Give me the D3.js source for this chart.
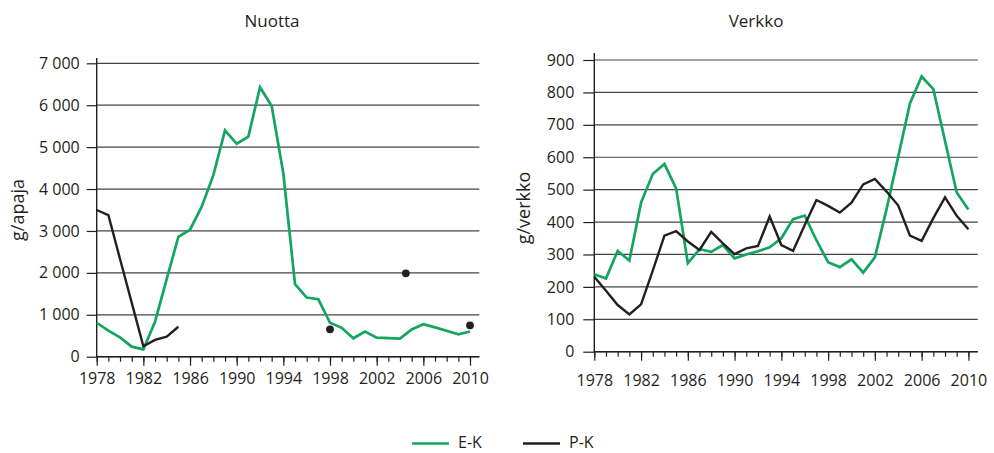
<!DOCTYPE html>
<html>
<head>
<meta charset="utf-8">
<script src="https://cdn.jsdelivr.net/npm/d3@7"></script>
<style>
  html, body { margin: 0; padding: 0; background: #fff; }
  svg { display: block; font-family: "Open Sans", sans-serif; }
  text { fill: #231f20; }
</style>
</head>
<body>
<svg id="chart" width="994" height="453"></svg>
<script>
// ---------- DATA ----------
const years = [1978,1979,1980,1981,1982,1983,1984,1985,1986,1987,1988,1989,1990,1991,1992,1993,1994,
               1995,1996,1997,1998,1999,2000,2001,2002,2003,2004,2005,2006,2007,2008,2009,2010];
const yearLabels = [1978,1982,1986,1990,1994,1998,2002,2006,2010];

// Nuotta (g/apaja)
const nuottaEK = [810,620,460,240,175,835,1850,2860,3030,3580,4330,5400,5080,5250,6430,5980,4370,
                  1730,1410,1370,810,690,440,600,455,445,430,650,775,700,620,535,600];
const nuottaPKYears = [1978,1979,1980,1981,1982,1983,1984,1985];
const nuottaPK = [3500,3380,2330,1290,250,400,477,714];
const nuottaPKDotYears = [1998,2004.5,2010];
const nuottaPKDots = [652,1990,748];
const nuottaTicks = [0,1000,2000,3000,4000,5000,6000,7000];

// Verkko (g/verkko)
const verkkoEK = [239,226,311,281,460,548,579,504,273,316,308,329,288,300,310,322,350,
                  409,420,344,276,261,285,244,291,440,602,766,849,810,650,491,439];
const verkkoPK = [231,188,144,115,146,250,358,372,340,314,370,334,301,319,326,417,329,
                  311,391,468,450,429,460,516,533,494,451,358,342,412,476,419,378];
const verkkoTicks = [0,100,200,300,400,500,600,700,800,900];

const seriesNames = ["E-K","P-K"];
const colors = {"E-K": "#14a55e", "P-K": "#231f20"};

// ---------- DRAW ----------
const svg = d3.select("#chart");
const locale = d3.formatLocale({decimal: ",", thousands: " ", grouping: [3]});
const fmt = locale.format(",d");

function panel(cfg) {
  const g = svg.append("g");
  const x = d3.scaleLinear().domain([1978, 2010]).range([cfg.x0, cfg.x1]);
  const y = d3.scaleLinear().domain([0, cfg.ymax]).range([cfg.y0, cfg.yTop]);
  const xEnd = x(2010.8);

  // gridlines
  g.append("g").selectAll("line").data(cfg.ticks).join("line")
    .attr("x1", x(1978)).attr("x2", xEnd)
    .attr("y1", d => y(d)).attr("y2", d => y(d))
    .attr("stroke", "#444").attr("stroke-width", 1.2);

  // y axis
  const ya = g.append("g").attr("transform", `translate(${x(1978)},0)`)
    .call(d3.axisLeft(y).tickValues(cfg.ticks).tickSize(cfg.yTick).tickPadding(cfg.yPad).tickFormat(fmt));
  ya.select(".domain").remove();
  ya.selectAll(".tick line").attr("stroke", "#231f20").attr("stroke-width", 1.2);
  ya.selectAll(".tick text").style("font-size", "16px").style("font-family", "Open Sans").attr("fill", "#231f20");
  g.append("line").attr("x1", x(1978)).attr("x2", x(1978))
    .attr("y1", cfg.axisTop).attr("y2", y(0) + 0.5)
    .attr("stroke", "#231f20").attr("stroke-width", 1.4);

  // x axis minor ticks
  const xa1 = g.append("g").attr("transform", `translate(0,${y(0)})`)
    .call(d3.axisBottom(x).tickValues(years).tickSize(5).tickFormat(""));
  xa1.select(".domain").remove();
  xa1.selectAll(".tick line").attr("stroke", "#231f20").attr("stroke-width", 1.2);
  // major ticks with labels
  const xa2 = g.append("g").attr("transform", `translate(0,${y(0)})`)
    .call(d3.axisBottom(x).tickValues(yearLabels).tickSize(9).tickPadding(cfg.xPad).tickFormat(d3.format("d")));
  xa2.select(".domain").remove();
  xa2.selectAll(".tick line").attr("stroke", "#231f20").attr("stroke-width", 1.2);
  xa2.selectAll(".tick text").style("font-size", "16px").style("font-family", "Open Sans").attr("fill", "#231f20");
  g.append("line").attr("x1", x(1978)).attr("x2", xEnd)
    .attr("y1", y(0)).attr("y2", y(0))
    .attr("stroke", "#231f20").attr("stroke-width", 1.4);

  // lines
  const line = d3.line().x(d => x(d[0])).y(d => y(d[1]));
  cfg.lines.forEach(s => {
    g.append("path").datum(d3.zip(s.years, s.values))
      .attr("d", line).attr("fill", "none")
      .attr("stroke", colors[s.name]).attr("stroke-width", s.name === "E-K" ? 2.7 : 2.4)
      .attr("stroke-linejoin", "miter");
  });
  if (cfg.dots) {
    g.append("g").selectAll("circle").data(d3.zip(cfg.dots.years, cfg.dots.values)).join("circle")
      .attr("cx", d => x(d[0])).attr("cy", d => y(d[1])).attr("r", 3.9)
      .attr("fill", colors["P-K"]);
  }

  // title
  g.append("text").attr("x", cfg.titleX).attr("y", 27).attr("text-anchor", "middle")
    .style("font-size", "17px").text(cfg.title);
  // y label
  g.append("text").attr("transform", `translate(${cfg.labX},${cfg.labY}) rotate(-90)`)
    .attr("text-anchor", "middle").attr("dy", "0.35em")
    .style("font-size", "18px").text(cfg.ylabel);
}

panel({
  x0: 96.7, x1: 470, y0: 356.7, yTop: 63.3, ymax: 7000, axisTop: 58,
  ticks: nuottaTicks, yTick: 10, yPad: 7, xPad: 7,
  title: "Nuotta", titleX: 272, ylabel: "g/apaja", labX: 18, labY: 210,
  lines: [
    {name: "E-K", years: years, values: nuottaEK},
    {name: "P-K", years: nuottaPKYears, values: nuottaPK}
  ],
  dots: {years: nuottaPKDotYears, values: nuottaPKDots}
});

panel({
  x0: 594.3, x1: 968.4, y0: 351.7, yTop: 60, ymax: 900, axisTop: 53,
  ticks: verkkoTicks, yTick: 11, yPad: 9, xPad: 14,
  title: "Verkko", titleX: 756, ylabel: "g/verkko", labX: 524, labY: 208,
  lines: [
    {name: "E-K", years: years, values: verkkoEK},
    {name: "P-K", years: years, values: verkkoPK}
  ]
});

// legend
const legendX = [412, 523];
const lg = svg.append("g");
seriesNames.forEach((n, i) => {
  lg.append("line").attr("x1", legendX[i]).attr("x2", legendX[i] + 37)
    .attr("y1", 443.5).attr("y2", 443.5)
    .attr("stroke", colors[n]).attr("stroke-width", 2.7);
  lg.append("text").attr("x", legendX[i] + 46).attr("y", 448)
    .style("font-size", "16px").text(n);
});
</script>
</body>
</html>
